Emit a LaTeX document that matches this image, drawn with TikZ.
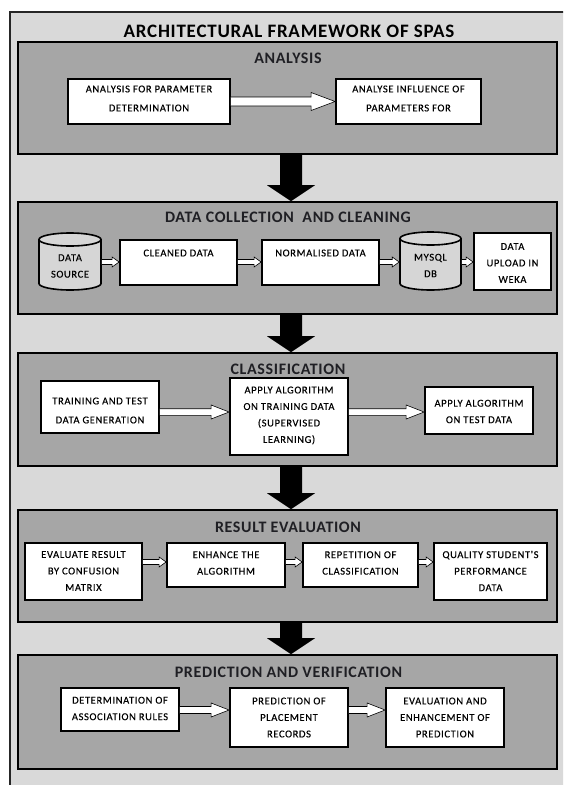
\documentclass[tikz,border=0pt]{standalone}
\usepackage{fontspec}
\setmainfont{Carlito}
\newfontfamily\boxfont[LetterSpace=6,FakeBold=0.3]{Carlito}
\newfontfamily\headfont[LetterSpace=4]{Carlito}
\usetikzlibrary{calc}
\definecolor{outergray}{HTML}{D9D9D9}
\definecolor{secgray}{HTML}{A6A6A6}
\definecolor{cylgray}{HTML}{D6D6D6}
\definecolor{headtext}{HTML}{1F1F24}
\tikzset{
  outerframe/.style={draw=black!85, line width=1.6pt, fill=outergray},
  secbox/.style={draw=black, line width=1.6pt, fill=secgray, inner sep=0pt},
  wbox/.style={draw=black, line width=1.8pt, fill=white, inner sep=0pt},
  cylshape/.style={draw=black, line width=1.6pt, fill=cylgray},
  boxtxt/.style={font=\boxfont\fontsize{10.5}{16.5}\selectfont, align=center, inner sep=0pt, text=black},
  wide/.style={font=\boxfont\fontsize{10.5}{19}\selectfont},
  sectitle/.style={font=\headfont\bfseries\fontsize{16}{18}\selectfont, text=headtext, inner sep=0pt},
  maintitle/.style={font=\headfont\bfseries\fontsize{19}{21}\selectfont, text=black, inner sep=0pt},
  hollow/.style={draw=black, line width=0.6pt, fill=white},
  bigarr/.style={fill=black}
}
% hollow arrow: from, to, y, shaft half, head half, head length
\newcommand\harrow[6]{%
  \path[hollow] let \p1=(#1), \p2=(#2), \p3=(0,#3) in
    (\x1,\y3+#4pt) -- (\x2-#6pt,\y3+#4pt) -- (\x2-#6pt,\y3+#5pt) -- (\x2,\y3)
    -- (\x2-#6pt,\y3-#5pt) -- (\x2-#6pt,\y3-#4pt) -- (\x1,\y3-#4pt);
}
% big black arrow between sections
\newcommand\bigarrow[2]{%
  \path[bigarr] let \p1=(#1), \p2=(#2) in
    (\x1+3.5pt-11pt,\y1+1pt) -- (\x1+3.5pt-11pt,\y2+16pt) -- (\x1+3.5pt-24pt,\y2+16pt)
    -- (\x1+3.5pt,\y2) -- (\x1+3.5pt+24pt,\y2+16pt) -- (\x1+3.5pt+11pt,\y2+16pt)
    -- (\x1+3.5pt+11pt,\y1+1pt) -- cycle;
}
% cylinder: name, x1, y1, x2, y2
\newcommand\dbcyl[5]{%
  \pgfmathsetmacro\cxc{(#2+#4)/2}%
  \pgfmathsetmacro\cyc{(#3+#5)/2}%
  \pgfmathsetmacro\crx{(#4-#2)/2}%
  \node[inner sep=0pt, outer sep=0.8pt, minimum width={(#4-#2)*1pt}, minimum height={(#5-#3)*1pt}] (#1) at (\cxc,\cyc) {};
  \path[cylshape] (#2,#3+6.5) -- (#2,#5-6.5)
    arc[start angle=180, end angle=360, x radius=\crx pt, y radius=6.5pt]
    -- (#4,#3+6.5)
    arc[start angle=0, end angle=180, x radius=\crx pt, y radius=6.5pt] -- cycle;
  \draw[line width=1.6pt] (#2,#3+6.5) arc[start angle=180, end angle=360, x radius=\crx pt, y radius=6.5pt];
}
\begin{document}
\begin{tikzpicture}[x=1pt,y=-1pt]
\useasboundingbox (0,0) rectangle (563,785);
\clip (0,0) rectangle (563,785);
\fill[white] (0,0) rectangle (563,785);
\draw[outerframe] (10,12) rectangle (600,820);

\node[maintitle] (title) at (289,31) {ARCHITECTURAL FRAMEWORK OF SPAS};

% sections
\node[secbox, minimum width=539pt, minimum height=112pt] (s1) at (287.5,98) {};
\node[secbox, minimum width=539pt, minimum height=112pt] (s2) at (287.5,258) {};
\node[secbox, minimum width=539pt, minimum height=113pt] (s3) at (287.5,409.5) {};
\node[secbox, minimum width=539pt, minimum height=112pt] (s4) at (287.5,566) {};
\node[secbox, minimum width=539pt, minimum height=114pt] (s5) at (287.5,712) {};

\node[sectitle] (s1t) at (288,58) {ANALYSIS};
\node[sectitle] (s2t) at (288,217) {DATA COLLECTION\ \ AND CLEANING};
\node[sectitle] (s3t) at (288,369.5) {CLASSIFICATION};
\node[sectitle] (s4t) at (288,527) {RESULT EVALUATION};
\node[sectitle] (s5t) at (288.5,672) {PREDICTION AND VERIFICATION};

\bigarrow{s1.south}{s2.north}
\bigarrow{s2.south}{s3.north}
\bigarrow{s3.south}{s4.north}
\bigarrow{s4.south}{s5.north}

% section 1
\node[wbox, minimum width=162pt, minimum height=45pt] (a1) at (149,101.5) {};
\node[wbox, minimum width=145pt, minimum height=45pt] (a2) at (408.5,101.5) {};
\node[boxtxt, wide] (a1t) at (149,98.5) {ANALYSIS FOR PARAMETER\\DETERMINATION};
\node[boxtxt, wide] (a2t) at (408.5,98.5) {ANALYSE INFLUENCE OF\\PARAMETERS FOR};
\harrow{a1.east}{a2.west}{101.5}{4.5}{9}{24}

% section 2
\dbcyl{c1}{39}{233}{101}{290}
\node[wbox, minimum width=117pt, minimum height=45pt] (cl) at (178.5,262.5) {};
\node[wbox, minimum width=117pt, minimum height=45pt] (nm) at (320.5,262.5) {};
\dbcyl{c2}{400}{232}{461}{290}
\node[wbox, minimum width=77pt, minimum height=57pt] (wk) at (512.5,261.5) {};
\node[boxtxt] (c1t) at (70,266) {DATA\\SOURCE};
\node[boxtxt] (clt) at (178.5,253) {CLEANED DATA};
\node[boxtxt] (nmt) at (320.5,253) {NORMALISED DATA};
\node[boxtxt] (c2t) at (430.5,265.5) {MYSQL\\DB};
\node[boxtxt] (wkt) at (512.5,263) {DATA\\UPLOAD IN\\WEKA};
\harrow{c1.east}{cl.west}{262}{2.5}{5}{7}
\harrow{cl.east}{nm.west}{262}{2.5}{5}{7}
\harrow{nm.east}{c2.west}{262}{2.5}{5}{7}
\harrow{c2.east}{wk.west}{262}{2.5}{5}{7}

% section 3
\node[wbox, minimum width=118pt, minimum height=52pt] (t1) at (100,407) {};
\node[wbox, minimum width=118pt, minimum height=77pt] (t2) at (289,416.5) {};
\node[wbox, minimum width=108pt, minimum height=47pt] (t3) at (479,410.5) {};
\node[boxtxt, wide] (t1t) at (100,410.5) {TRAINING AND TEST\\DATA GENERATION};
\node[boxtxt] (t2t) at (289,415.5) {APPLY ALGORITHM\\ON TRAINING DATA\\(SUPERVISED\\LEARNING)};
\node[boxtxt] (t3t) at (479,411.5) {APPLY ALGORITHM\\ON TEST DATA};
\harrow{t1.east}{t2.west}{412}{3.3}{7}{18}
\harrow{t2.east}{t3.west}{412}{3.3}{7}{18}

% section 4
\node[wbox, minimum width=117pt, minimum height=57pt] (r1) at (83.5,571.5) {};
\node[wbox, minimum width=118pt, minimum height=44pt] (r2) at (226,565) {};
\node[wbox, minimum width=115pt, minimum height=44pt] (r3) at (360.5,565) {};
\node[wbox, minimum width=113pt, minimum height=57pt] (r4) at (490.5,571.5) {};
\node[boxtxt] (r1t) at (83.5,571) {EVALUATE RESULT\\BY CONFUSION\\MATRIX};
\node[boxtxt] (r2t) at (226,563) {ENHANCE THE\\ALGORITHM};
\node[boxtxt] (r3t) at (360.5,563) {REPETITION OF\\CLASSIFICATION};
\node[boxtxt] (r4t) at (490.5,571) {QUALITY STUDENT'S\\PERFORMANCE\\DATA};
\harrow{r1.east}{r2.west}{562}{2.5}{5}{7}
\harrow{r2.east}{r3.west}{562}{2.5}{5}{7}
\harrow{r3.east}{r4.west}{562}{2.5}{5}{7}

% section 5
\node[wbox, minimum width=118pt, minimum height=43pt] (p1) at (120,709.5) {};
\node[wbox, minimum width=118pt, minimum height=59pt] (p2) at (289,717.5) {};
\node[wbox, minimum width=118pt, minimum height=59pt] (p3) at (445,717.5) {};
\node[boxtxt] (p1t) at (120,708.5) {DETERMINATION OF\\ASSOCIATION RULES};
\node[boxtxt] (p2t) at (289,717.5) {PREDICTION OF\\PLACEMENT\\RECORDS};
\node[boxtxt] (p3t) at (445,717.5) {EVALUATION AND\\ENHANCEMENT OF\\PREDICTION};
\harrow{p1.east}{p2.west}{710}{3.5}{7}{18}
\harrow{p2.east}{p3.west}{710}{3.5}{7}{18}
\end{tikzpicture}
\end{document}
